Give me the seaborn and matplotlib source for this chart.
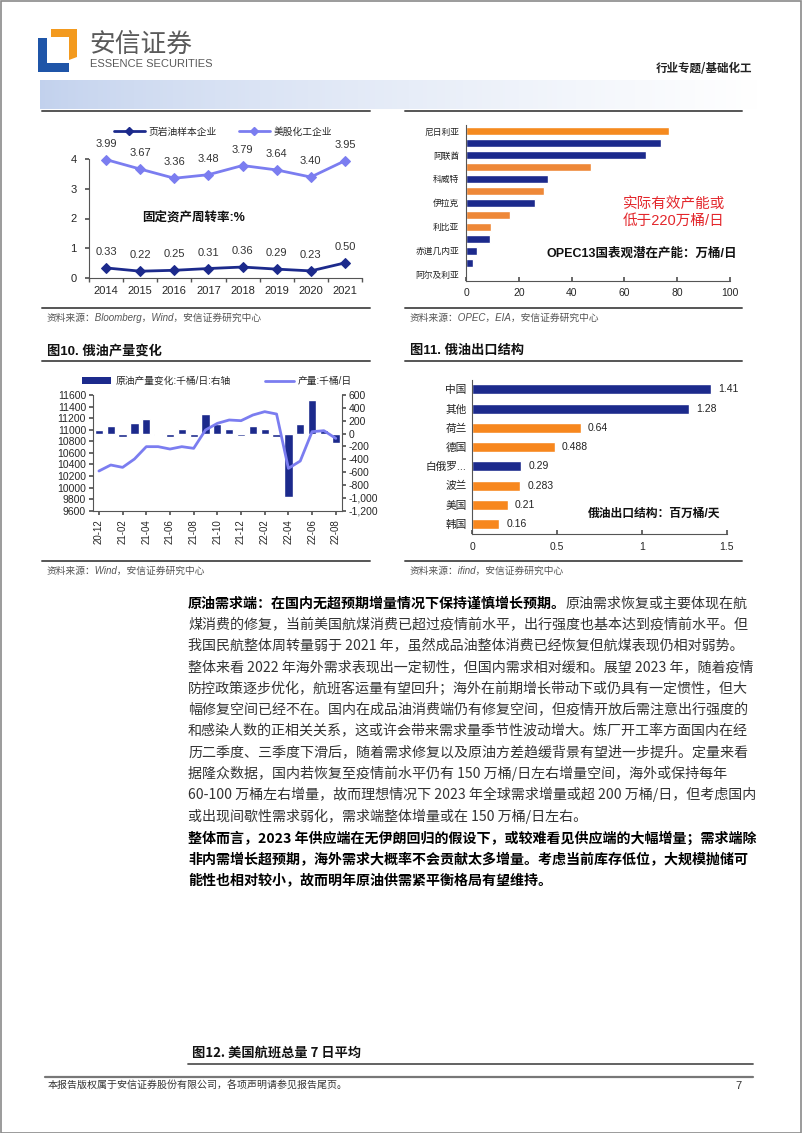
import numpy as np
import pandas as pd
import matplotlib
matplotlib.use("Agg")
import matplotlib.pyplot as plt
import seaborn as sns
from matplotlib.patches import Patch, Polygon, Rectangle
from matplotlib.lines import Line2D
from matplotlib.ticker import FuncFormatter

# ---------------- data ----------------
years = ["2014", "2015", "2016", "2017", "2018", "2019", "2020", "2021"]
shale_turnover = [0.33, 0.22, 0.25, 0.31, 0.36, 0.29, 0.23, 0.50]
chem_turnover = [3.99, 3.67, 3.36, 3.48, 3.79, 3.64, 3.40, 3.95]
series_names = ["页岩油样本企业", "美股化工企业"]

opec_countries = ["尼日利亚", "沙特", "阿联酋", "伊朗", "科威特", "委内瑞拉", "伊拉克",
                  "安哥拉", "利比亚", "加蓬", "赤道几内亚", "刚果", "阿尔及利亚"]
opec_capacity = [77, 74, 68, 47.5, 31, 29.5, 26, 16.5, 9.5, 9, 4, 2.5, 0]
opec_limited = [True, False, False, True, False, True, False, True, True, False, False, False, False]
opec_shown = ["尼日利亚", "阿联酋", "科威特", "伊拉克", "利比亚", "赤道几内亚", "阿尔及利亚"]

months = ["20-12", "21-01", "21-02", "21-03", "21-04", "21-05", "21-06", "21-07", "21-08",
          "21-09", "21-10", "21-11", "21-12", "22-01", "22-02", "22-03", "22-04", "22-05",
          "22-06", "22-07", "22-08"]
ru_output = [10286, 10390, 10349, 10493, 10707, 10707, 10666, 10707, 10678, 10995, 11110,
             11168, 11156, 11254, 11312, 11271, 10332, 10459, 10966, 10983, 10850]
ru_output_change = [50, 120, -60, 170, 220, -30, -60, 70, -50, 310, 150, 75, -35, 115, 75,
                    -60, -990, 150, 520, 50, -140]

export_countries = ["中国", "其他", "荷兰", "德国", "白俄罗...", "波兰", "美国", "韩国"]
export_values = [1.41, 1.28, 0.64, 0.488, 0.29, 0.283, 0.21, 0.16]
export_group = ["blue", "blue", "orange", "orange", "blue", "orange", "orange", "orange"]

body_lines = [
    ("原油需求端：在国内无超预期增量情况下保持谨慎增长预期。", "原油需求恢复或主要体现在航"),
    ("", "煤消费的修复，当前美国航煤消费已超过疫情前水平，出行强度也基本达到疫情前水平。但"),
    ("", "我国民航整体周转量弱于 2021 年，虽然成品油整体消费已经恢复但航煤表现仍相对弱势。"),
    ("", "整体来看 2022 年海外需求表现出一定韧性，但国内需求相对缓和。展望 2023 年，随着疫情"),
    ("", "防控政策逐步优化，航班客运量有望回升；海外在前期增长带动下或仍具有一定惯性，但大"),
    ("", "幅修复空间已经不在。国内在成品油消费端仍有修复空间，但疫情开放后需注意出行强度的"),
    ("", "和感染人数的正相关关系，这或许会带来需求量季节性波动增大。炼厂开工率方面国内在经"),
    ("", "历二季度、三季度下滑后，随着需求修复以及原油方差趋缓背景有望进一步提升。定量来看"),
    ("", "据隆众数据，国内若恢复至疫情前水平仍有 150 万桶/日左右增量空间，海外或保持每年"),
    ("", "60-100 万桶左右增量，故而理想情况下 2023 年全球需求增量或超 200 万桶/日，但考虑国内"),
    ("", "或出现间歇性需求弱化，需求端整体增量或在 150 万桶/日左右。"),
    ("整体而言，2023 年供应端在无伊朗回归的假设下，或较难看见供应端的大幅增量；需求端除", ""),
    ("非内需增长超预期，海外需求大概率不会贡献太多增量。考虑当前库存低位，大规模抛储可", ""),
    ("能性也相对较小，故而明年原油供需紧平衡格局有望维持。", ""),
]

# ---------------- style ----------------
sns.set_theme(style="white")
FONTS = ['Liberation Sans', 'Noto Sans CJK SC', 'DejaVu Sans']
plt.rcParams['font.family'] = FONTS
plt.rcParams['axes.unicode_minus'] = False

NAVY = "#1C2A8C"
LIGHT = "#7B7DF0"
ORANGE = "#F58A1F"
ORANGE2 = "#EE8838"
AXC = "#555555"

W, H = 802, 1133
fig = plt.figure(figsize=(W / 100, H / 100), dpi=100)


def add_ax(l, t, r, b):
    return fig.add_axes([l / W, 1 - b / H, (r - l) / W, (b - t) / H])


def ftext(x, y, s, **kw):
    return fig.text(x / W, 1 - y / H, s, **kw)


def hline(x0, x1, y, color="#555555", lw=1.4):
    fig.add_artist(Line2D([x0 / W, x1 / W], [1 - y / H, 1 - y / H], color=color, lw=lw))


def style_axes(ax):
    for s in ["top", "right"]:
        ax.spines[s].set_visible(False)
    for s in ["left", "bottom"]:
        ax.spines[s].set_color(AXC)
        ax.spines[s].set_linewidth(0.8)
    ax.set_xlabel("")
    ax.set_ylabel("")


# ---------------- page frame / header ----------------
fig.add_artist(Rectangle((0.5 / W, 0.5 / H), (W - 1.5) / W, (H - 1.5) / H, transform=fig.transFigure,
                         fill=False, edgecolor="#8a8a8a", lw=1.2))
fig.add_artist(Polygon([(38 / W, 1 - 38 / H), (47 / W, 1 - 38 / H), (47 / W, 1 - 63 / H), (69 / W, 1 - 63 / H),
                        (69 / W, 1 - 72 / H), (38 / W, 1 - 72 / H)], closed=True,
                       transform=fig.transFigure, facecolor="#1F55A8", edgecolor="none"))
fig.add_artist(Polygon([(51 / W, 1 - 29 / H), (77 / W, 1 - 29 / H), (77 / W, 1 - 57 / H), (69 / W, 1 - 60 / H),
                        (69 / W, 1 - 37 / H), (51 / W, 1 - 37 / H)], closed=True,
                       transform=fig.transFigure, facecolor="#F39A1E", edgecolor="none"))
ftext(89, 45, "安信证券", fontsize=18.5, color="#5a5a5a", va="center", ha="left",
      family=['Noto Sans CJK SC'])
ftext(90, 64, "ESSENCE SECURITIES", fontsize=8, color="#5a5a5a", va="center", ha="left",
      family=['Liberation Sans Narrow', 'Liberation Sans'])
ftext(752, 68, "行业专题/基础化工", fontsize=8.3, color="#222222", va="center", ha="right",
      weight="bold", family=['Noto Sans CJK SC'])

axg = add_ax(40, 80, 758, 109)
t = np.linspace(0, 1, 300)
start = np.array([0.76, 0.82, 0.93])
ramp = start[None, :] + (1 - start[None, :]) * (t[:, None] ** 0.75)
axg.imshow(ramp[None, :, :], aspect="auto", extent=[0, 1, 0, 1])
axg.axis("off")

# rules around charts
for (x0, x1) in [(42, 370), (405, 742)]:
    hline(x0, x1, 111)
    hline(x0, x1, 308)
    hline(x0, x1, 361)
    hline(x0, x1, 561)

src_kw = dict(fontsize=7, color="#555555", va="center", ha="left", style="italic")
ftext(47, 318, "资料来源：Bloomberg，Wind，安信证券研究中心", **src_kw)
ftext(410, 318, "资料来源：OPEC，EIA，安信证券研究中心", **src_kw)
ftext(47, 571, "资料来源：Wind，安信证券研究中心", **src_kw)
ftext(410, 571, "资料来源：ifind，安信证券研究中心", **src_kw)
ftext(47, 351, "图10. 俄油产量变化", fontsize=9.5, weight="bold", color="#111111", va="center")
ftext(410, 351, "图11. 俄油出口结构", fontsize=9.5, weight="bold", color="#111111", va="center")

# ---------------- chart 1 ----------------
ax1 = add_ax(89, 159.3, 362, 277.7)
for vals, col in [(shale_turnover, NAVY), (chem_turnover, LIGHT)]:
    sns.lineplot(x=years, y=vals, color=col, lw=2, marker="D", markersize=5,
                 markeredgecolor=col, sort=False, ax=ax1, clip_on=False)
    for i, v in enumerate(vals):
        ax1.annotate(f"{v:.2f}", (i, v), xytext=(0, 11.5), textcoords="offset points",
                     ha="center", va="center", fontsize=8, color="#333333")
ax1.set_xlim(-0.5, len(years) - 0.5)
ax1.set_ylim(0, 4)
ax1.set_yticks([0, 1, 2, 3, 4])
ax1.set_xticks(range(len(years)))
ax1.set_xticklabels(years)
ax1.set_xticks(np.arange(-0.5, len(years), 1), minor=True)
style_axes(ax1)
ax1.tick_params(axis="y", which="major", length=3, color=AXC, labelsize=8, pad=6, direction="out", left=True)
ax1.tick_params(axis="x", which="major", length=0, labelsize=8, pad=6)
ax1.tick_params(axis="x", which="minor", length=3, color=AXC, direction="out", bottom=True)
ftext(194, 218, "固定资产周转率:%", fontsize=9, weight="bold", ha="center", va="center", color="#111111")
h1 = [Line2D([], [], color=c, lw=2, marker="D", markersize=4, markeredgecolor=c) for c in (NAVY, LIGHT)]
fig.legend(h1, series_names, loc="center", bbox_to_anchor=(223 / W, 1 - 131.7 / H), ncol=2,
           frameon=False, fontsize=7, handlelength=3.2, columnspacing=2.2, handletextpad=0.4)

# ---------------- chart 2 ----------------
ax2 = add_ax(466, 125, 730, 280.7)
opec_colors = [(ORANGE if i == 0 else ORANGE2) if lim else NAVY for i, lim in enumerate(opec_limited)]
sns.barplot(x=opec_capacity, y=opec_countries, hue=opec_countries, palette=opec_colors,
            legend=False, orient="h", width=0.65, saturation=1, ax=ax2)
ax2.set_xlim(0, 100)
ax2.set_ylim(len(opec_countries) - 0.5, -0.5)
shown_pos = [opec_countries.index(c) for c in opec_shown]
ax2.set_yticks(shown_pos)
ax2.set_yticklabels(opec_shown)
ax2.set_xticks([0, 20, 40, 60, 80, 100])
style_axes(ax2)
ax2.tick_params(axis="y", length=0, labelsize=6.3, pad=5, colors="#222222")
ax2.tick_params(axis="x", length=3, color=AXC, direction="in", labelsize=7.5, pad=5, bottom=True)
ftext(674, 204, "实际有效产能或", fontsize=10.5, color="#E3262B", ha="center", va="center")
ftext(674, 221, "低于220万桶/日", fontsize=10.5, color="#E3262B", ha="center", va="center")
ftext(642, 254, "OPEC13国表观潜在产能：万桶/日", fontsize=9, weight="bold", ha="center",
      va="center", color="#111111")

# ---------------- chart 3 ----------------
ax3 = add_ax(93, 395, 341.7, 510.7)
ax3r = ax3.twinx()
sns.lineplot(x=months, y=ru_output, color=LIGHT, lw=2, sort=False, ax=ax3)
sns.barplot(x=months, y=ru_output_change, color=NAVY, width=0.7, saturation=1, ax=ax3r)
ax3.set_zorder(ax3r.get_zorder() + 1)
ax3.patch.set_visible(False)
ax3.set_xlim(-0.5, len(months) - 0.5)
ax3.set_ylim(9600, 11600)
ax3.set_yticks(range(9600, 11601, 200))
ax3r.set_ylim(-1200, 600)
ax3r.set_yticks(range(-1200, 601, 200))
ax3r.yaxis.set_major_formatter(FuncFormatter(lambda v, p: f"{int(v):,}"))
ax3.set_xticks(range(0, len(months), 2))
ax3.set_xticklabels(months[::2], rotation=90)
style_axes(ax3)
for s in ["top", "left", "bottom"]:
    ax3r.spines[s].set_visible(False)
ax3r.spines["right"].set_visible(True)
ax3r.spines["right"].set_color(AXC)
ax3r.spines["right"].set_linewidth(0.8)
ax3r.set_ylabel("")
ax3.tick_params(axis="y", length=3, color=AXC, direction="out", labelsize=7.5, pad=2, left=True)
ax3.tick_params(axis="x", length=3, color=AXC, direction="out", labelsize=7, pad=3, bottom=True)
ax3r.tick_params(axis="y", length=3, color=AXC, direction="out", labelsize=7.5, pad=2, right=True)
h3 = [Patch(facecolor=NAVY, edgecolor="none"), Line2D([], [], color=LIGHT, lw=2)]
fig.legend(h3, ["原油产量变化:千桶/日:右轴", "产量:千桶/日"], loc="center",
           bbox_to_anchor=(217 / W, 1 - 381 / H), ncol=2, frameon=False, fontsize=7,
           handlelength=3, columnspacing=3.5, handletextpad=0.4, handleheight=0.6)

# ---------------- chart 4 ----------------
ax4 = add_ax(472.3, 379.7, 726.7, 533.6)
exp_colors = [NAVY if g == "blue" else "#F7871E" for g in export_group]
sns.barplot(x=export_values, y=export_countries, hue=export_countries, palette=exp_colors,
            legend=False, orient="h", width=0.52, saturation=1, ax=ax4)
for i, v in enumerate(export_values):
    ax4.annotate(f"{v:g}", (v, i), xytext=(5, 0), textcoords="offset points",
                 ha="left", va="center", fontsize=7.5, color="#222222")
ax4.set_xlim(0, 1.5)
ax4.set_ylim(len(export_countries) - 0.5, -0.5)
ax4.set_xticks([0, 0.5, 1, 1.5])
ax4.set_xticklabels(["0", "0.5", "1", "1.5"])
style_axes(ax4)
ax4.tick_params(axis="y", length=0, labelsize=7.7, pad=4, colors="#222222")
ax4.tick_params(axis="x", length=3, color=AXC, direction="in", labelsize=7.5, pad=6, bottom=True)
ftext(654, 514, "俄油出口结构：百万桶/天", fontsize=8.5, weight="bold", ha="center",
      va="center", color="#111111")

# ---------------- body text ----------------
renderer = fig.canvas.get_renderer()
y0, dy = 604, 21.2
for k, (bold_part, normal_part) in enumerate(body_lines):
    y = y0 + k * dy + (1.5 if k >= 11 else 0)
    x = 188
    if bold_part:
        tb = ftext(x, y, bold_part, fontsize=10.1, weight="bold", color="#000000",
                   va="center", ha="left", family=['Noto Sans CJK SC', 'DejaVu Sans'])
        x = tb.get_window_extent(renderer).x1
    if normal_part:
        fig.text(x / W, 1 - y / H, normal_part, fontsize=10.1, color="#333333", va="center",
                 ha="left", family=['Noto Sans CJK SC', 'DejaVu Sans'])

ftext(192, 1053, "图12. 美国航班总量 7 日平均", fontsize=9.5, weight="bold", color="#111111",
      va="center", family=['Noto Sans CJK SC', 'DejaVu Sans'])
hline(188, 753, 1064, color="#555555", lw=1.3)
hline(45, 753, 1077, color="#777777", lw=1.6)
ftext(48, 1086, "本报告版权属于安信证券股份有限公司，各项声明请参见报告尾页。", fontsize=7.2,
      color="#333333", va="center", family=['Noto Sans CJK SC', 'DejaVu Sans'])
ftext(742, 1086, "7", fontsize=8, color="#333333", va="center", ha="right")

fig.savefig("out.png", dpi=100)
